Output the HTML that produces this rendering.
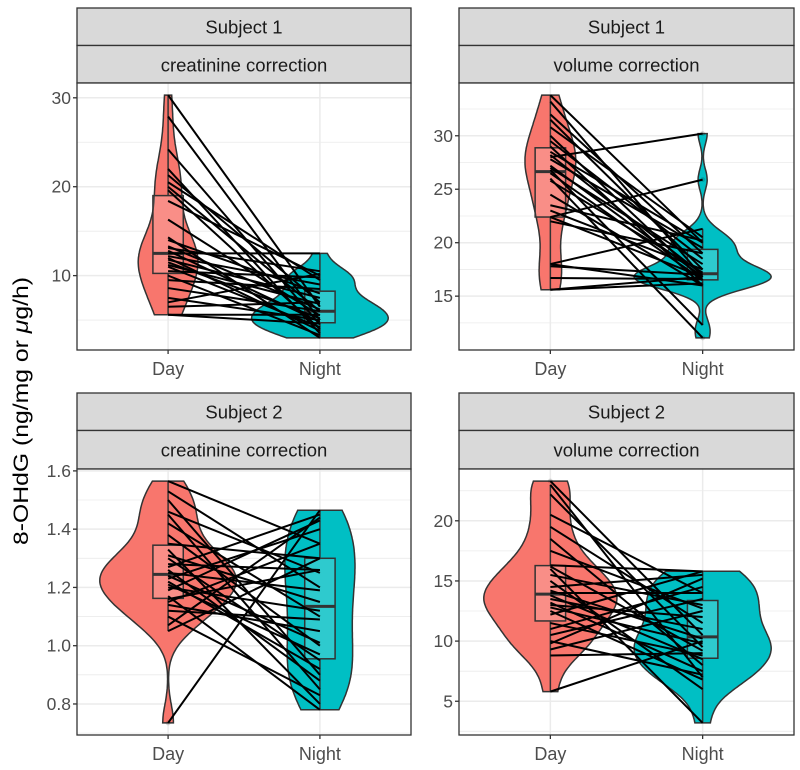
<!DOCTYPE html>
<html><head><meta charset="utf-8"><style>
body{margin:0;background:#fff;}
svg{display:block;font-family:"Liberation Sans",sans-serif;}
</style></head><body>
<svg id="chart" width="800" height="770" viewBox="0 0 800 770" xmlns="http://www.w3.org/2000/svg">
<rect width="800" height="770" fill="#fff"/>
<text transform="translate(28,411) rotate(-90)" text-anchor="middle" font-size="21" fill="#000" textLength="268" lengthAdjust="spacingAndGlyphs">8-OHdG (ng/mg or <tspan font-style="italic">μ</tspan>g/h)</text>
</svg>
<script>
const categories=['Day','Night'];
// Subject 1, creatinine correction (pairs by index)
const s1CreatDay=[30.3,27.9,24.2,22,21.3,20.5,20,19.6,18.4,16.3,14.3,14,13.3,13.1,12.8,12.5,12.2,12,11.8,11.5,11.2,11,10.5,10,9.5,8.6,7.5,7,6.5,5.6,5.6];
const s1CreatNight=[6.5,5,4.5,3.5,7,9.5,6,4,10,5.5,3,8,6.2,10.5,4.8,12.5,9,3.8,7.5,5.2,6.8,4.2,9.8,3.3,8.5,6,5,10.2,7,5.6,4.6];
// Subject 1, volume correction
const s1VolDay=[33.8,33.2,32,31.5,30.8,30,29.5,29,28.5,28.2,28,27.8,27.2,27,26.8,26.5,26,25.8,24.5,23.5,22.4,22.4,22,18,18,17.8,16.7,15.6,15.6,23];
const s1VolNight=[20,16.8,19,17.5,20.5,16.5,18.5,16,20,17,30.2,19.5,16.8,18,12.3,16.5,11.1,17.2,16,20.2,25.9,16.8,19,21.3,16,17,16.6,16.2,16.8,17.5];
// Subject 2, creatinine correction
const s2CreatDay=[1.565,1.53,1.5,1.46,1.45,1.42,1.38,1.35,1.33,1.31,1.3,1.28,1.27,1.26,1.25,1.24,1.23,1.22,1.2,1.19,1.17,1.16,1.15,1.12,1.1,1.07,1.05,0.735,1.21,1.14];
const s2CreatNight=[1.35,1.2,0.9,1.25,0.85,1.1,1.0,1.3,0.8,1.15,0.95,1.26,1.45,0.88,1.19,1.01,1.4,0.92,1.12,1.43,0.78,1.26,1.35,1.09,0.83,1.44,1.3,1.465,0.97,1.05];
// Subject 2, volume correction
const s2VolDay=[23.3,23,22.2,20.5,19.5,18.5,17.5,16.3,16.2,16,15.5,15,14.5,14.2,14,13.8,13.5,13.2,13,12.8,12.2,11.5,11,10.5,10,9.8,9.3,8.8,5.8,12.5];
const s2VolNight=[10.5,7,9.5,14,11.5,8,12.7,15.8,9.2,3.2,13,6,15.5,10.2,14,8.5,11,7.5,12,9.8,15.8,8.8,14.5,13.5,7.2,15.2,12.5,9,10,6.8];
// tick labels
const ticksS1Creat=[10,20,30];
const ticksS1Vol=[15,20,25,30];
const ticksS2Creat=['0.8','1.0','1.2','1.4','1.6'];
const ticksS2Vol=[5,10,15,20];
const subjects=['Subject 1','Subject 1','Subject 2','Subject 2'];
const corrections=['creatinine correction','volume correction','creatinine correction','volume correction'];

const NS='http://www.w3.org/2000/svg';
const svg=document.getElementById('chart');
function mk(tag,attrs,parent){const e=document.createElementNS(NS,tag);for(const k in attrs)e.setAttribute(k,attrs[k]);(parent||svg).appendChild(e);return e;}
function q7(s,p){const h=(s.length-1)*p,lo=Math.floor(h),hi=Math.min(lo+1,s.length-1);return s[lo]+(h-lo)*(s[hi]-s[lo]);}
function sd(a){const m=a.reduce((x,y)=>x+y,0)/a.length;return Math.sqrt(a.reduce((x,y)=>x+(y-m)*(y-m),0)/(a.length-1));}
function kde(a){const s=[...a].sort((x,y)=>x-y);const iqr=q7(s,0.75)-q7(s,0.25);let lo=Math.min(sd(a),iqr/1.34);if(!(lo>0))lo=sd(a);const bw=0.9*lo*Math.pow(a.length,-0.2);
 const mn=s[0],mx=s[s.length-1],out=[];for(let i=0;i<128;i++){const v=mn+(mx-mn)*i/127;let d=0;for(const x of a){const z=(v-x)/bw;d+=Math.exp(-0.5*z*z);}out.push([v,d/(a.length*bw)]);}return out;}

const fills=['#F8766D','#00BFC4'];
const panels=[
 {x0:77,x1:411,y0:83,y1:350,sy0:8,day:s1CreatDay,night:s1CreatNight,ticks:ticksS1Creat,name:'subject1-creatinine'},
 {x0:459,x1:794,y0:83,y1:350,sy0:8,day:s1VolDay,night:s1VolNight,ticks:ticksS1Vol,name:'subject1-volume'},
 {x0:77,x1:411,y0:469,y1:735,sy0:393,day:s2CreatDay,night:s2CreatNight,ticks:ticksS2Creat,name:'subject2-creatinine'},
 {x0:459,x1:794,y0:469,y1:735,sy0:393,day:s2VolDay,night:s2VolNight,ticks:ticksS2Vol,name:'subject2-volume'}
];

panels.forEach((p,pi)=>{
 const g=mk('g',{});
 
 
 const all=p.day.concat(p.night);
 const dmin=Math.min(...all),dmax=Math.max(...all),ex=(dmax-dmin)*0.05;
 const lo=dmin-ex,hi=dmax+ex;
 const y=v=>p.y1-(v-lo)/(hi-lo)*(p.y1-p.y0);
 const unit=(p.x1-p.x0)/2.2;
 const x=i=>p.x0+unit*(0.6+i);
 // strips
 const st1=mk('rect',{x:p.x0,y:p.sy0,width:p.x1-p.x0,height:37.5,fill:'#D9D9D9',stroke:'#333','stroke-width':1.3},g);
 
 
 const st2=mk('rect',{x:p.x0,y:p.sy0+37.5,width:p.x1-p.x0,height:p.y0-p.sy0-37.5,fill:'#D9D9D9',stroke:'#333','stroke-width':1.3},g);
 
 
 const t1=mk('text',{x:(p.x0+p.x1)/2,y:p.sy0+25.5,'text-anchor':'middle','font-size':18.5,fill:'#1A1A1A'},g);t1.textContent=subjects[pi];
 
 
 const t2=mk('text',{x:(p.x0+p.x1)/2,y:p.sy0+63.5,'text-anchor':'middle','font-size':18.5,fill:'#1A1A1A'},g);t2.textContent=corrections[pi];
 
 
 // panel bg + grid
 mk('rect',{x:p.x0,y:p.y0,width:p.x1-p.x0,height:p.y1-p.y0,fill:'#fff'},g);
 const tv=p.ticks.map(Number);
 const step=tv[1]-tv[0];
 for(let v=tv[0]-step/2;v<=hi;v+=step){if(v>=lo){const gy=y(v);const l=mk('line',{x1:p.x0,x2:p.x1,y1:gy,y2:gy,stroke:'#EBEBEB','stroke-width':0.8},g);
 }}
 tv.forEach(v=>{const gy=y(v);const l=mk('line',{x1:p.x0,x2:p.x1,y1:gy,y2:gy,stroke:'#EBEBEB','stroke-width':1.5},g);
 });
 categories.forEach((c,i)=>{const l=mk('line',{x1:x(i),x2:x(i),y1:p.y0,y2:p.y1,stroke:'#EBEBEB','stroke-width':1.5},g);
 });
 // violins
 const groups=[p.day,p.night];
 const dens=groups.map(kde);
 const maxd=Math.max(...dens.map(d=>Math.max(...d.map(e=>e[1]))));
 dens.forEach((d,i)=>{
  const cx=x(i);
  const right=d.map(e=>[cx+e[1]/maxd*0.45*unit,y(e[0])]);
  const left=d.slice().reverse().map(e=>[cx-e[1]/maxd*0.45*unit,y(e[0])]);
  const pts=right.concat(left).map(q=>q[0].toFixed(1)+','+q[1].toFixed(1)).join(' ');
  const v=mk('polygon',{points:pts,fill:fills[i],stroke:'#333','stroke-width':1.5},g);
  
  
 });
 // boxplots
 groups.forEach((a,i)=>{
  const s=[...a].sort((m,n)=>m-n);
  const q1=q7(s,0.25),med=q7(s,0.5),q3=q7(s,0.75),iq=q3-q1;
  const wl=Math.min(...s.filter(v=>v>=q1-1.5*iq)),wh=Math.max(...s.filter(v=>v<=q3+1.5*iq));
  const cx=x(i),hw=0.1*unit;
  const w1=mk('line',{x1:cx,x2:cx,y1:y(wh),y2:y(q3),stroke:'#333','stroke-width':1.5},g);
  
  
  const w2=mk('line',{x1:cx,x2:cx,y1:y(q1),y2:y(wl),stroke:'#333','stroke-width':1.5},g);
  
  
  const b=mk('rect',{x:cx-hw,y:y(q3),width:2*hw,height:y(q1)-y(q3),fill:'rgba(255,255,255,0.18)',stroke:'#333','stroke-width':1.5},g);
  
  
  const m=mk('line',{x1:cx-hw,x2:cx+hw,y1:y(med),y2:y(med),stroke:'#333','stroke-width':3},g);
  
  
  s.filter(v=>v<wl||v>wh).forEach(v=>{const o=mk('circle',{cx:cx,cy:y(v),r:2.5,fill:'rgba(0,0,0,0.15)'},g);
   
   });
 });
 // paired lines
 p.day.forEach((dv,k)=>{
  const l=mk('line',{x1:x(0),y1:y(dv),x2:x(1),y2:y(p.night[k]),stroke:'#000','stroke-width':2},g);
  
  
 });
 // border
 const br=mk('rect',{x:p.x0,y:p.y0,width:p.x1-p.x0,height:p.y1-p.y0,fill:'none',stroke:'#333','stroke-width':1.3},g);
 
 
 // y ticks
 p.ticks.forEach(t=>{const ty=y(Number(t));
  mk('line',{x1:p.x0-4,x2:p.x0,y1:ty,y2:ty,stroke:'#333','stroke-width':1.3},g);
  const tl=mk('text',{x:p.x0-6,y:ty+6,'text-anchor':'end','font-size':17.5,fill:'#4D4D4D'},g);tl.textContent=t;
  
  
 });
 // x ticks
 categories.forEach((c,i)=>{
  mk('line',{x1:x(i),x2:x(i),y1:p.y1,y2:p.y1+4,stroke:'#333','stroke-width':1.3},g);
  const tl=mk('text',{x:x(i),y:p.y1+25,'text-anchor':'middle','font-size':18,fill:'#4D4D4D'},g);tl.textContent=c;
  
  
 });
});
</script>
</body></html>
